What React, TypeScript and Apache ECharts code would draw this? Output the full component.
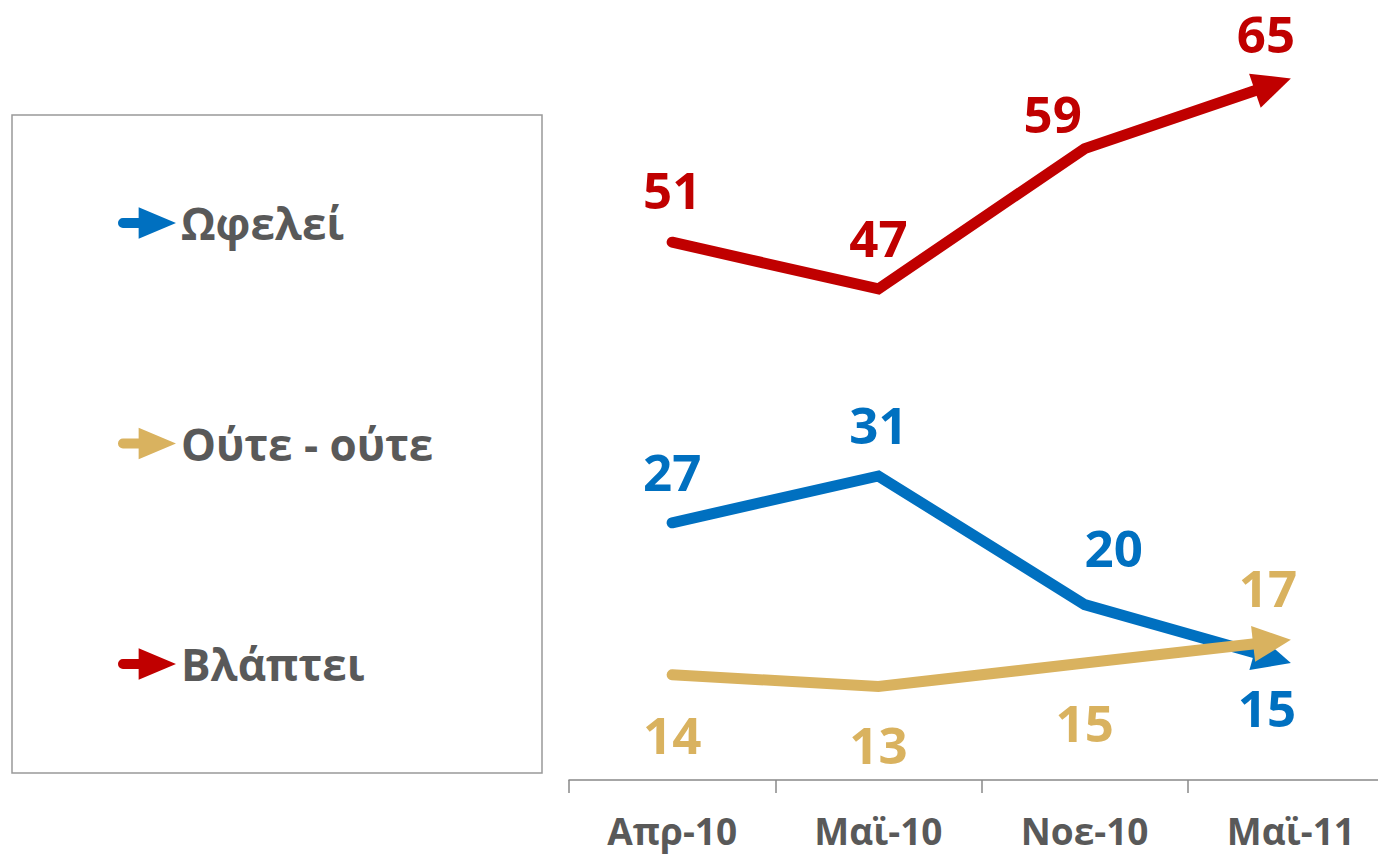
import React, { useEffect, useRef } from "react";
import * as echarts from "echarts";

const categories = ["Απρ-10", "Μαϊ-10", "Νοε-10", "Μαϊ-11"];
const seriesNames = ["Ωφελεί", "Ούτε - ούτε", "Βλάπτει"];
const ofeleiValues = [27, 31, 20, 15];
const outeValues = [14, 13, 15, 17];
const vlapteiValues = [51, 47, 59, 65];

const COLORS = ["#0070C0", "#D9B25F", "#C00000"];
// label offsets in pixels (dx, dy) relative to each point
const LABEL_OFFSETS = [
  [[0, -52], [0, -52], [29, -58], [-24, 44]],
  [[0, 59], [0, 58], [0, 59], [-23, -53]],
  [[0, -53], [0, -52], [-32, -36], [-25, -45]],
];

const FONT = '"Open Sans", "Noto Sans", sans-serif';
const ARROW_LEN = 38;
const ARROW_W = 36;
const LINE_W = 11;

const LEGEND_ICON =
  "path://M4,11 L20,11 L20,0 L58,16 L20,32 L20,21 L4,21 A5,5 0 0 1 4,11 Z";

function makeRenderItem(color: string, offsets: number[][]) {
  return (params: any, api: any) => {
    if (params.dataIndexInside !== 0) return null;
    const n = params.dataInsideLength;
    const pts: number[][] = [];
    for (let i = 0; i < n; i++) {
      pts.push(api.coord([api.value(0, i), api.value(1, i)]));
    }
    const tip = pts[n - 1];
    const prev = pts[n - 2];
    const dx = tip[0] - prev[0];
    const dy = tip[1] - prev[1];
    const len = Math.sqrt(dx * dx + dy * dy);
    const ux = dx / len;
    const uy = dy / len;
    const nx = -uy;
    const ny = ux;
    const bx = tip[0] - ux * ARROW_LEN;
    const by = tip[1] - uy * ARROW_LEN;
    const linePts = pts.slice(0, n - 1).concat([[bx + ux * 2, by + uy * 2]]);
    const children: any[] = [
      {
        type: "polyline",
        shape: { points: linePts },
        style: {
          stroke: color,
          lineWidth: LINE_W,
          fill: null,
          lineCap: "round",
          lineJoin: "miter",
        },
      },
      {
        type: "polygon",
        shape: {
          points: [
            [tip[0], tip[1]],
            [bx + (nx * ARROW_W) / 2, by + (ny * ARROW_W) / 2],
            [bx - (nx * ARROW_W) / 2, by - (ny * ARROW_W) / 2],
          ],
        },
        style: { fill: color },
      },
    ];
    for (let i = 0; i < n; i++) {
      children.push({
        type: "text",
        x: pts[i][0] + offsets[i][0],
        y: pts[i][1] + offsets[i][1],
        style: {
          text: String(api.value(1, i)),
          fill: color,
          fontSize: 51,
          lineHeight: 42,
          fontWeight: "bold",
          fontFamily: FONT,
          align: "center",
          verticalAlign: "middle",
          textAlign: "center",
          textVerticalAlign: "middle",
        },
      });
    }
    return { type: "group", children };
  };
}

export default function App() {
  const ref = useRef<HTMLDivElement>(null);

  useEffect(() => {
    if (!ref.current) return;
    const chart = echarts.init(ref.current, null, { renderer: "svg" });
    const allValues = [ofeleiValues, outeValues, vlapteiValues];
    const series = allValues.map((vals, s) => ({
      type: "custom",
      name: seriesNames[s],
      coordinateSystem: "cartesian2d",
      itemStyle: { color: COLORS[s] },
      data: vals.map((v, i) => [i, v]),
      encode: { x: 0, y: 1 },
      renderItem: makeRenderItem(COLORS[s], LABEL_OFFSETS[s]),
      clip: false,
      z: 2 + s,
    }));

    chart.setOption({
      animation: false,
      backgroundColor: "#ffffff",
      grid: { left: 569, right: 6, top: 20, bottom: 75 },
      xAxis: {
        type: "category",
        data: categories,
        boundaryGap: true,
        axisLine: { show: true, lineStyle: { color: "#898989", width: 1.5 } },
        axisTick: { show: true, length: 13, lineStyle: { color: "#898989", width: 1.5 } },
        axisLabel: {
          margin: 32,
          color: "#595959",
          fontSize: 37,
          fontWeight: "bold",
          fontFamily: FONT,
        },
        splitLine: { show: false },
      },
      yAxis: {
        type: "value",
        min: 5,
        max: 70,
        show: false,
      },
      legend: {
        orient: "vertical",
        left: 118,
        top: 201,
        padding: 0,
        itemWidth: 58,
        itemHeight: 32,
        itemGap: 176.5,
        icon: LEGEND_ICON,
        selectedMode: false,
        data: seriesNames.map((name, s) => ({
          name,
          itemStyle: { color: COLORS[s] },
        })),
        textStyle: {
          color: "#595959",
          fontSize: 44,
          fontWeight: "bold",
          fontFamily: FONT,
          lineHeight: 40,
        },
      },
      graphic: [
        {
          type: "rect",
          shape: { x: 12, y: 115, width: 530, height: 658 },
          style: { fill: "none", stroke: "#999999", lineWidth: 1.5 },
          z: 0,
        },
      ],
      series,
    });

    return () => chart.dispose();
  }, []);

  return (
    <div
      ref={ref}
      style={{ position: "fixed", left: 0, top: 0, width: 1400, height: 855 }}
    />
  );
}
